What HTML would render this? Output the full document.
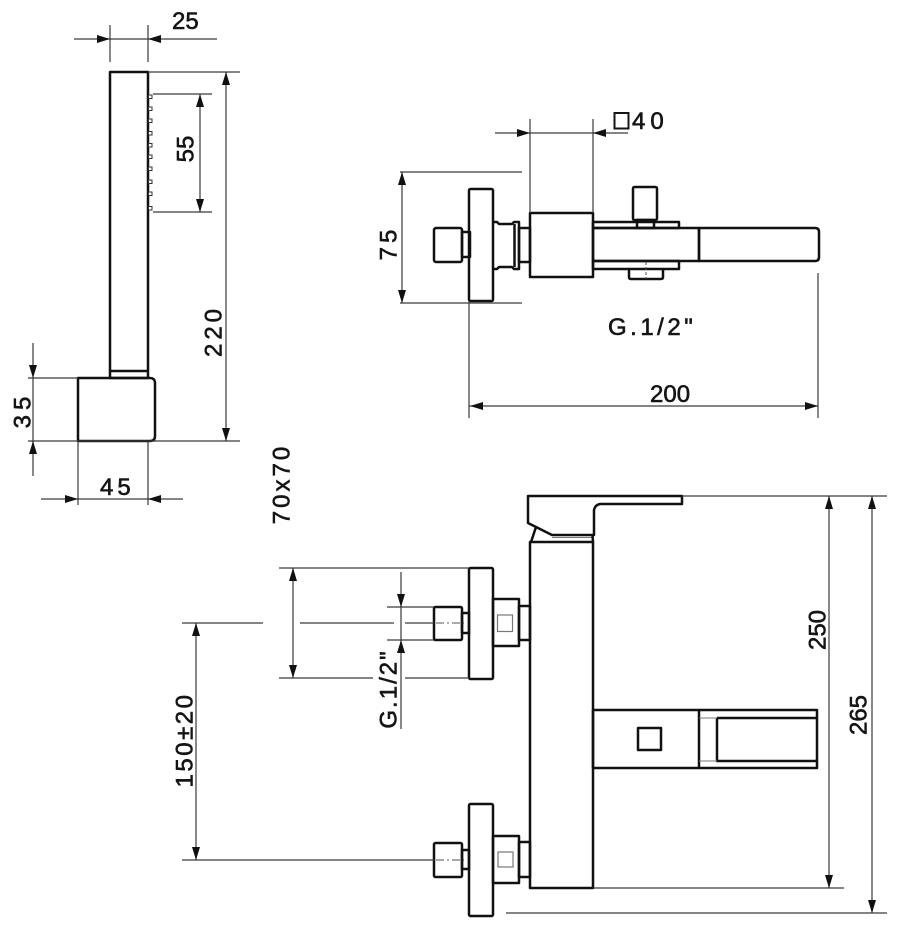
<!DOCTYPE html>
<html>
<head>
<meta charset="utf-8">
<style>
html,body{margin:0;padding:0;background:#fff;}
svg{display:block;}
text{font-family:"Liberation Sans","DejaVu Sans",sans-serif;font-size:24px;fill:#151515;stroke:#151515;stroke-width:0.6;}
.o{fill:none;stroke:#111;stroke-width:2.5;stroke-linejoin:round;}
.d{fill:none;stroke:#3a3a3a;stroke-width:1.2;}
.t{fill:none;stroke:#777;stroke-width:1;}
.a{fill:#111;stroke:none;}
</style>
</head>
<body>
<svg width="907" height="950" viewBox="0 0 907 950" xmlns="http://www.w3.org/2000/svg">

<!-- ================= HAND SHOWER ================= -->
<rect class="o" x="110" y="72" width="38" height="306"/>
<line class="o" x1="110" y1="371" x2="148" y2="371"/>
<g fill="#fff" stroke="#333" stroke-width="1">
<rect x="148.5" y="95" width="3.5" height="3.5"/>
<rect x="148.5" y="107" width="3.5" height="3.5"/>
<rect x="148.5" y="119" width="3.5" height="3.5"/>
<rect x="148.5" y="131.5" width="3.5" height="3.5"/>
<rect x="148.5" y="143.5" width="3.5" height="3.5"/>
<rect x="148.5" y="155" width="3.5" height="3.5"/>
<rect x="148.5" y="167" width="3.5" height="3.5"/>
<rect x="148.5" y="180" width="3.5" height="3.5"/>
<rect x="148.5" y="192" width="3.5" height="3.5"/>
<rect x="148.5" y="206.5" width="3.5" height="3.5"/>
</g>
<path class="o" d="M78,378 L150,378 Q155,378 155,383 L155,436 Q155,441 150,441 L78,441 Z"/>

<!-- 25 dim -->
<line class="d" x1="74" y1="39" x2="217" y2="39"/>
<line class="d" x1="110" y1="25" x2="110" y2="62"/>
<line class="d" x1="148" y1="25" x2="148" y2="62"/>
<polygon class="a" points="110,39 97,35 97,43"/>
<polygon class="a" points="148,39 161,35 161,43"/>
<text x="172" y="29">25</text>

<!-- 55 dim -->
<line class="d" x1="153" y1="94" x2="212" y2="94"/>
<line class="d" x1="153" y1="212" x2="212" y2="212"/>
<line class="d" x1="200" y1="94" x2="200" y2="212"/>
<polygon class="a" points="200,94 196,107 204,107"/>
<polygon class="a" points="200,212 196,199 204,199"/>
<text transform="translate(185,149) rotate(-90)" y="8.5" text-anchor="middle">55</text>

<!-- 220 dim -->
<line class="d" x1="148" y1="72" x2="240" y2="72"/>
<line class="d" x1="28" y1="441" x2="240" y2="441"/>
<line class="d" x1="226" y1="72" x2="226" y2="441"/>
<polygon class="a" points="226,72 222,85 230,85"/>
<polygon class="a" points="226,441 222,428 230,428"/>
<text transform="translate(213,331) rotate(-90)" y="8.5" text-anchor="middle" letter-spacing="4">220</text>

<!-- 35 dim -->
<line class="d" x1="28" y1="378" x2="78" y2="378"/>
<line class="d" x1="33" y1="343" x2="33" y2="476"/>
<polygon class="a" points="33,378 29,365 37,365"/>
<polygon class="a" points="33,441 29,454 37,454"/>
<text transform="translate(22,410) rotate(-90)" y="8.5" text-anchor="middle" letter-spacing="5">35</text>

<!-- 45 dim -->
<line class="d" x1="78" y1="441" x2="78" y2="505"/>
<line class="d" x1="148" y1="441" x2="148" y2="505"/>
<line class="d" x1="41" y1="499" x2="183" y2="499"/>
<polygon class="a" points="78,499 65,495 65,503"/>
<polygon class="a" points="148,499 161,495 161,503"/>
<text x="100" y="495" letter-spacing="4">45</text>

<!-- ================= TOP VIEW ================= -->
<rect class="o" x="434" y="228" width="28" height="34" rx="2"/>
<rect class="o" x="462" y="232" width="8" height="25"/>
<rect class="o" x="469" y="189" width="24" height="112" rx="1.5"/>
<path class="o" d="M493,222 L497,222 L499,224 L512,224 L514,222 L519,222 L519,269 L514,269 L512,267 L499,267 L497,269 L493,269"/>
<line class="o" x1="514.5" y1="224" x2="514.5" y2="267"/>
<rect class="o" x="519" y="228" width="11" height="34"/>
<rect class="o" x="530" y="213" width="63" height="64"/>
<rect class="o" x="633" y="187" width="24" height="33" rx="1.5"/>
<rect class="o" x="637" y="220" width="17" height="8"/>
<rect class="o" x="593" y="222" width="86" height="6"/>
<rect class="o" x="593" y="261" width="86" height="8"/>
<rect class="o" x="593" y="228" width="106" height="33"/>
<path class="o" d="M699,228 L815,228 Q819,228 819,232 L819,257 Q819,261 815,261 L699,261 Z"/>
<path class="o" d="M629,269 L629,277 Q629,279 631,279 L661,279 Q663,279 663,277 L663,269"/>
<line x1="646" y1="262" x2="646" y2="279" stroke="#555" stroke-width="1" stroke-dasharray="3,2"/>

<!-- □40 dim -->
<line class="d" x1="530" y1="119" x2="530" y2="213"/>
<line class="d" x1="593" y1="119" x2="593" y2="213"/>
<line class="d" x1="495" y1="133" x2="628" y2="133"/>
<polygon class="a" points="530,133 517,129 517,137"/>
<polygon class="a" points="593,133 606,129 606,137"/>
<rect x="614.5" y="113" width="14" height="15.5" fill="none" stroke="#151515" stroke-width="2"/>
<text x="632" y="129" letter-spacing="5">40</text>

<!-- 75 dim -->
<line class="d" x1="400" y1="172" x2="522" y2="172"/>
<line class="d" x1="400" y1="303" x2="522" y2="303"/>
<line class="d" x1="402" y1="172" x2="402" y2="303"/>
<polygon class="a" points="402,172 398,185 406,185"/>
<polygon class="a" points="402,303 398,290 406,290"/>
<text transform="translate(388,243) rotate(-90)" y="8.5" text-anchor="middle" letter-spacing="4">75</text>

<text x="608" y="335" letter-spacing="3.5">G.1/2"</text>

<!-- 200 dim -->
<line class="d" x1="469" y1="301" x2="469" y2="418"/>
<line class="d" x1="818" y1="273" x2="818" y2="418"/>
<line class="d" x1="469" y1="406" x2="818" y2="406"/>
<polygon class="a" points="470,406 483,402 483,410"/>
<polygon class="a" points="818,406 805,402 805,410"/>
<text x="650" y="402">200</text>

<!-- ================= FRONT VIEW ================= -->
<path class="o" d="M528,496 L682,496 L682,504 L600,504 Q595,505 594,510 L594,535 L552,535 L528,523 Z"/>
<line class="o" x1="536" y1="527" x2="531" y2="542"/>
<line class="t" x1="552" y1="537.5" x2="592" y2="537.5"/>
<line class="o" x1="592.5" y1="535" x2="593" y2="542"/>
<rect class="o" x="530" y="542" width="63" height="346"/>

<!-- upper inlet -->
<rect class="o" x="434" y="607" width="28" height="33" rx="1.5"/>
<rect class="o" x="462" y="613" width="7" height="20"/>
<rect class="o" x="469" y="568" width="24" height="111" rx="1.5"/>
<rect class="o" x="493" y="599" width="26" height="47"/>
<rect x="497.5" y="615" width="15" height="16.5" fill="none" stroke="#777" stroke-width="1.2"/>
<rect class="o" x="519" y="606" width="11" height="34"/>
<line x1="436" y1="623" x2="464" y2="623" stroke="#555" stroke-width="1" stroke-dasharray="8,3,2,3"/>

<!-- lower inlet -->
<rect class="o" x="434" y="843" width="28" height="34" rx="1.5"/>
<rect class="o" x="462" y="850" width="7" height="19"/>
<rect class="o" x="469" y="804" width="24" height="112" rx="1.5"/>
<rect class="o" x="493" y="836" width="26" height="47"/>
<rect x="498" y="852" width="15" height="15" fill="none" stroke="#777" stroke-width="1.2"/>
<rect class="o" x="519" y="842" width="11" height="35"/>
<line x1="436" y1="860" x2="464" y2="860" stroke="#555" stroke-width="1" stroke-dasharray="8,3,2,3"/>

<!-- spout -->
<rect class="o" x="593" y="710" width="224" height="58"/>
<line class="o" x1="699" y1="710" x2="699" y2="768"/>
<rect class="o" x="638" y="728" width="23" height="22"/>
<path class="o" d="M717,718 L817,718 M717,718 L717,761 L817,761"/>
<line class="t" x1="699" y1="718" x2="717" y2="718"/>
<line class="t" x1="699" y1="761" x2="717" y2="761"/>

<text transform="translate(281,484) rotate(-90)" y="8.5" text-anchor="middle" letter-spacing="3">70x70</text>

<!-- flange dim -->
<line class="d" x1="279" y1="568" x2="469" y2="568"/>
<line class="d" x1="279" y1="678" x2="373" y2="678"/>
<line class="d" x1="405" y1="678" x2="469" y2="678"/>
<line class="d" x1="293" y1="568" x2="293" y2="678"/>
<polygon class="a" points="293,568 289,581 297,581"/>
<polygon class="a" points="293,678 289,665 297,665"/>

<!-- G1/2 front dim -->
<line class="d" x1="387" y1="607" x2="434" y2="607"/>
<line class="d" x1="387" y1="640" x2="434" y2="640"/>
<line class="d" x1="401" y1="572" x2="401" y2="729"/>
<polygon class="a" points="401,607 397,594 405,594"/>
<polygon class="a" points="401,640 397,653 405,653"/>
<text transform="translate(388,689) rotate(-90)" y="8.5" text-anchor="middle" letter-spacing="2">G.1/2"</text>

<!-- 150±20 dim -->
<line class="d" x1="182" y1="623" x2="263" y2="623"/>
<line class="d" x1="300" y1="623" x2="394" y2="623"/>
<line class="d" x1="405" y1="623" x2="434" y2="623"/>
<line class="d" x1="182" y1="860" x2="434" y2="860"/>
<line class="d" x1="196" y1="623" x2="196" y2="860"/>
<polygon class="a" points="196,623 192,636 200,636"/>
<polygon class="a" points="196,860 192,847 200,847"/>
<text transform="translate(184,740) rotate(-90)" y="8.5" text-anchor="middle" letter-spacing="2.5">150±20</text>

<!-- 250 / 265 dims -->
<line class="d" x1="682" y1="496" x2="887" y2="496"/>
<line class="d" x1="593" y1="888" x2="844" y2="888"/>
<line class="d" x1="506" y1="913" x2="887" y2="913"/>
<line class="d" x1="829" y1="496" x2="829" y2="888"/>
<line class="d" x1="872" y1="496" x2="872" y2="913"/>
<polygon class="a" points="829,496 825,509 833,509"/>
<polygon class="a" points="829,888 825,875 833,875"/>
<polygon class="a" points="872,496 868,509 876,509"/>
<polygon class="a" points="872,913 868,900 876,900"/>
<text transform="translate(817,630) rotate(-90)" y="8.5" text-anchor="middle">250</text>
<text transform="translate(858,715) rotate(-90)" y="8.5" text-anchor="middle">265</text>

</svg>
</body>
</html>
